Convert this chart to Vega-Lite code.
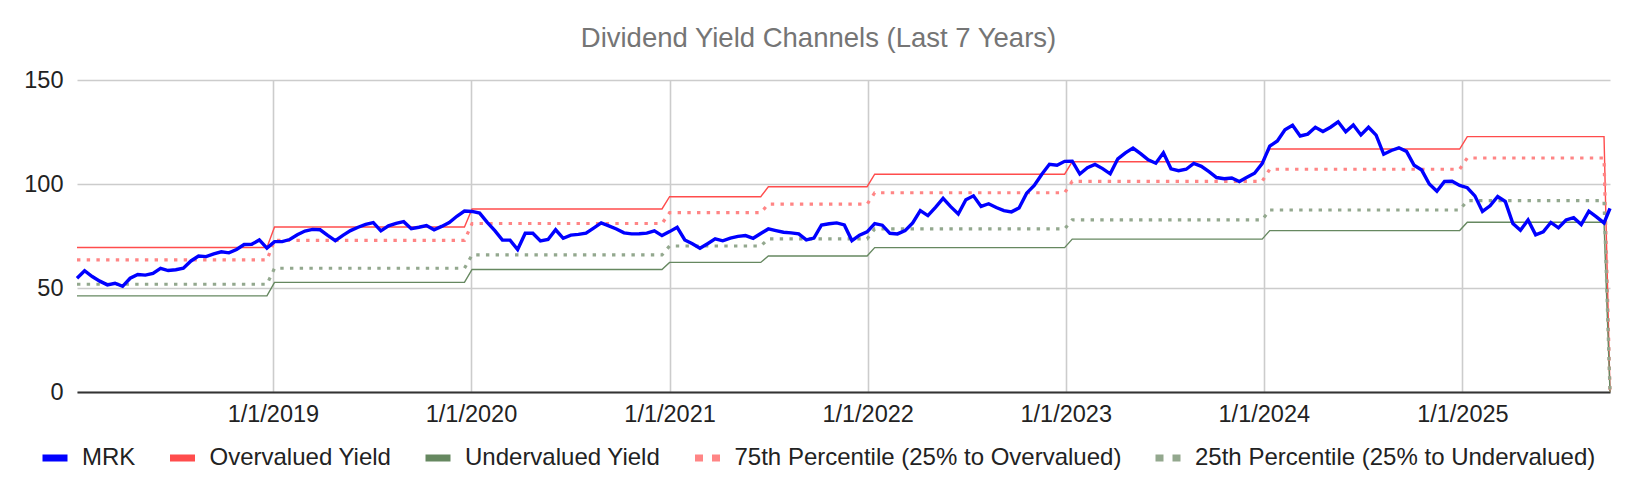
{
  "$schema": "https://vega.github.io/schema/vega-lite/v6.json",
  "width": 1533,
  "height": 312,
  "autosize": {"type": "none"},
  "padding": {"left": 77, "top": 80, "right": 26, "bottom": 102},
  "background": "white",
  "config": {
    "view": {"stroke": null},
    "font": "Liberation Sans"
  },
  "title": {
    "text": "Dividend Yield Channels (Last 7 Years)",
    "font": "Liberation Sans",
    "fontSize": 27.5,
    "fontWeight": "normal",
    "color": "#757575",
    "anchor": "middle",
    "frame": "group",
    "dx": -25,
    "offset": 16
  },
  "data": {
    "values": [
      {"d": "2018-01-05", "s": "MRK", "v": 54.7},
      {"d": "2018-01-19", "s": "MRK", "v": 58.3},
      {"d": "2018-02-02", "s": "MRK", "v": 55.5},
      {"d": "2018-02-16", "s": "MRK", "v": 53.3},
      {"d": "2018-03-02", "s": "MRK", "v": 51.5},
      {"d": "2018-03-16", "s": "MRK", "v": 52.3},
      {"d": "2018-03-30", "s": "MRK", "v": 50.8},
      {"d": "2018-04-13", "s": "MRK", "v": 54.7},
      {"d": "2018-04-27", "s": "MRK", "v": 56.5},
      {"d": "2018-05-11", "s": "MRK", "v": 56.2},
      {"d": "2018-05-25", "s": "MRK", "v": 57.0},
      {"d": "2018-06-08", "s": "MRK", "v": 59.4},
      {"d": "2018-06-22", "s": "MRK", "v": 58.4},
      {"d": "2018-07-06", "s": "MRK", "v": 58.8},
      {"d": "2018-07-20", "s": "MRK", "v": 59.5},
      {"d": "2018-08-03", "s": "MRK", "v": 63.0},
      {"d": "2018-08-17", "s": "MRK", "v": 65.4},
      {"d": "2018-08-31", "s": "MRK", "v": 65.1},
      {"d": "2018-09-14", "s": "MRK", "v": 66.4},
      {"d": "2018-09-28", "s": "MRK", "v": 67.4},
      {"d": "2018-10-12", "s": "MRK", "v": 66.9},
      {"d": "2018-10-26", "s": "MRK", "v": 68.5},
      {"d": "2018-11-09", "s": "MRK", "v": 70.9},
      {"d": "2018-11-23", "s": "MRK", "v": 71.0},
      {"d": "2018-12-07", "s": "MRK", "v": 73.1},
      {"d": "2018-12-21", "s": "MRK", "v": 69.2},
      {"d": "2019-01-04", "s": "MRK", "v": 72.3},
      {"d": "2019-01-18", "s": "MRK", "v": 72.3},
      {"d": "2019-02-01", "s": "MRK", "v": 73.3},
      {"d": "2019-02-15", "s": "MRK", "v": 75.6},
      {"d": "2019-03-01", "s": "MRK", "v": 77.4},
      {"d": "2019-03-15", "s": "MRK", "v": 78.2},
      {"d": "2019-03-29", "s": "MRK", "v": 78.0},
      {"d": "2019-04-12", "s": "MRK", "v": 75.3},
      {"d": "2019-04-26", "s": "MRK", "v": 72.8},
      {"d": "2019-05-10", "s": "MRK", "v": 75.3},
      {"d": "2019-05-24", "s": "MRK", "v": 77.6},
      {"d": "2019-06-07", "s": "MRK", "v": 79.2},
      {"d": "2019-06-21", "s": "MRK", "v": 80.6},
      {"d": "2019-07-05", "s": "MRK", "v": 81.4},
      {"d": "2019-07-19", "s": "MRK", "v": 77.5},
      {"d": "2019-08-02", "s": "MRK", "v": 79.9},
      {"d": "2019-08-16", "s": "MRK", "v": 81.1},
      {"d": "2019-08-30", "s": "MRK", "v": 81.9},
      {"d": "2019-09-13", "s": "MRK", "v": 78.5},
      {"d": "2019-09-27", "s": "MRK", "v": 79.2},
      {"d": "2019-10-11", "s": "MRK", "v": 80.0},
      {"d": "2019-10-25", "s": "MRK", "v": 78.0},
      {"d": "2019-11-08", "s": "MRK", "v": 79.6},
      {"d": "2019-11-22", "s": "MRK", "v": 81.5},
      {"d": "2019-12-06", "s": "MRK", "v": 84.5},
      {"d": "2019-12-20", "s": "MRK", "v": 87.0},
      {"d": "2020-01-03", "s": "MRK", "v": 86.8},
      {"d": "2020-01-17", "s": "MRK", "v": 86.0},
      {"d": "2020-01-31", "s": "MRK", "v": 81.6},
      {"d": "2020-02-14", "s": "MRK", "v": 77.6},
      {"d": "2020-02-28", "s": "MRK", "v": 73.1},
      {"d": "2020-03-13", "s": "MRK", "v": 73.0},
      {"d": "2020-03-27", "s": "MRK", "v": 68.5},
      {"d": "2020-04-10", "s": "MRK", "v": 76.3},
      {"d": "2020-04-24", "s": "MRK", "v": 76.3},
      {"d": "2020-05-08", "s": "MRK", "v": 72.6},
      {"d": "2020-05-22", "s": "MRK", "v": 73.3},
      {"d": "2020-06-05", "s": "MRK", "v": 78.0},
      {"d": "2020-06-19", "s": "MRK", "v": 73.9},
      {"d": "2020-07-03", "s": "MRK", "v": 75.4},
      {"d": "2020-07-17", "s": "MRK", "v": 75.8},
      {"d": "2020-07-31", "s": "MRK", "v": 76.4},
      {"d": "2020-08-14", "s": "MRK", "v": 78.8},
      {"d": "2020-08-28", "s": "MRK", "v": 81.3},
      {"d": "2020-09-11", "s": "MRK", "v": 79.9},
      {"d": "2020-09-25", "s": "MRK", "v": 78.4},
      {"d": "2020-10-09", "s": "MRK", "v": 76.5},
      {"d": "2020-10-23", "s": "MRK", "v": 76.0},
      {"d": "2020-11-06", "s": "MRK", "v": 76.1},
      {"d": "2020-11-20", "s": "MRK", "v": 76.4},
      {"d": "2020-12-04", "s": "MRK", "v": 77.5},
      {"d": "2020-12-18", "s": "MRK", "v": 75.2},
      {"d": "2021-01-01", "s": "MRK", "v": 77.1},
      {"d": "2021-01-15", "s": "MRK", "v": 79.2},
      {"d": "2021-01-29", "s": "MRK", "v": 73.1},
      {"d": "2021-02-12", "s": "MRK", "v": 71.3},
      {"d": "2021-02-26", "s": "MRK", "v": 69.1},
      {"d": "2021-03-12", "s": "MRK", "v": 71.3},
      {"d": "2021-03-26", "s": "MRK", "v": 73.6},
      {"d": "2021-04-09", "s": "MRK", "v": 72.7},
      {"d": "2021-04-23", "s": "MRK", "v": 74.0},
      {"d": "2021-05-07", "s": "MRK", "v": 74.8},
      {"d": "2021-05-21", "s": "MRK", "v": 75.2},
      {"d": "2021-06-04", "s": "MRK", "v": 73.9},
      {"d": "2021-06-18", "s": "MRK", "v": 76.2},
      {"d": "2021-07-02", "s": "MRK", "v": 78.4},
      {"d": "2021-07-16", "s": "MRK", "v": 77.6},
      {"d": "2021-07-30", "s": "MRK", "v": 76.8},
      {"d": "2021-08-13", "s": "MRK", "v": 76.5},
      {"d": "2021-08-27", "s": "MRK", "v": 76.0},
      {"d": "2021-09-10", "s": "MRK", "v": 73.1},
      {"d": "2021-09-24", "s": "MRK", "v": 74.0},
      {"d": "2021-10-08", "s": "MRK", "v": 80.3},
      {"d": "2021-10-22", "s": "MRK", "v": 80.9},
      {"d": "2021-11-05", "s": "MRK", "v": 81.3},
      {"d": "2021-11-19", "s": "MRK", "v": 80.3},
      {"d": "2021-12-03", "s": "MRK", "v": 72.8},
      {"d": "2021-12-17", "s": "MRK", "v": 75.4},
      {"d": "2021-12-31", "s": "MRK", "v": 77.0},
      {"d": "2022-01-14", "s": "MRK", "v": 81.0},
      {"d": "2022-01-28", "s": "MRK", "v": 80.2},
      {"d": "2022-02-11", "s": "MRK", "v": 76.3},
      {"d": "2022-02-25", "s": "MRK", "v": 76.0},
      {"d": "2022-03-11", "s": "MRK", "v": 77.6},
      {"d": "2022-03-25", "s": "MRK", "v": 81.3},
      {"d": "2022-04-08", "s": "MRK", "v": 87.2},
      {"d": "2022-04-22", "s": "MRK", "v": 84.8},
      {"d": "2022-05-06", "s": "MRK", "v": 88.8},
      {"d": "2022-05-20", "s": "MRK", "v": 93.1},
      {"d": "2022-06-03", "s": "MRK", "v": 89.1},
      {"d": "2022-06-17", "s": "MRK", "v": 85.6},
      {"d": "2022-07-01", "s": "MRK", "v": 92.4},
      {"d": "2022-07-15", "s": "MRK", "v": 94.3},
      {"d": "2022-07-29", "s": "MRK", "v": 89.2},
      {"d": "2022-08-12", "s": "MRK", "v": 90.5},
      {"d": "2022-08-26", "s": "MRK", "v": 88.7},
      {"d": "2022-09-09", "s": "MRK", "v": 87.2},
      {"d": "2022-09-23", "s": "MRK", "v": 86.6},
      {"d": "2022-10-07", "s": "MRK", "v": 88.5},
      {"d": "2022-10-21", "s": "MRK", "v": 95.6},
      {"d": "2022-11-04", "s": "MRK", "v": 99.3},
      {"d": "2022-11-18", "s": "MRK", "v": 104.7},
      {"d": "2022-12-02", "s": "MRK", "v": 109.5},
      {"d": "2022-12-16", "s": "MRK", "v": 109.0},
      {"d": "2022-12-30", "s": "MRK", "v": 110.9},
      {"d": "2023-01-13", "s": "MRK", "v": 111.0},
      {"d": "2023-01-27", "s": "MRK", "v": 104.8},
      {"d": "2023-02-10", "s": "MRK", "v": 107.8},
      {"d": "2023-02-24", "s": "MRK", "v": 109.4},
      {"d": "2023-03-10", "s": "MRK", "v": 107.4},
      {"d": "2023-03-24", "s": "MRK", "v": 104.9},
      {"d": "2023-04-07", "s": "MRK", "v": 112.1},
      {"d": "2023-04-21", "s": "MRK", "v": 115.0},
      {"d": "2023-05-05", "s": "MRK", "v": 117.3},
      {"d": "2023-05-19", "s": "MRK", "v": 114.6},
      {"d": "2023-06-02", "s": "MRK", "v": 111.6},
      {"d": "2023-06-16", "s": "MRK", "v": 110.0},
      {"d": "2023-06-30", "s": "MRK", "v": 115.0},
      {"d": "2023-07-14", "s": "MRK", "v": 107.3},
      {"d": "2023-07-28", "s": "MRK", "v": 106.4},
      {"d": "2023-08-11", "s": "MRK", "v": 107.1},
      {"d": "2023-08-25", "s": "MRK", "v": 109.9},
      {"d": "2023-09-08", "s": "MRK", "v": 108.5},
      {"d": "2023-09-22", "s": "MRK", "v": 105.9},
      {"d": "2023-10-06", "s": "MRK", "v": 103.1},
      {"d": "2023-10-20", "s": "MRK", "v": 102.5},
      {"d": "2023-11-03", "s": "MRK", "v": 102.9},
      {"d": "2023-11-17", "s": "MRK", "v": 101.2},
      {"d": "2023-12-01", "s": "MRK", "v": 103.2},
      {"d": "2023-12-15", "s": "MRK", "v": 105.2},
      {"d": "2023-12-29", "s": "MRK", "v": 109.8},
      {"d": "2024-01-12", "s": "MRK", "v": 118.2},
      {"d": "2024-01-26", "s": "MRK", "v": 120.7},
      {"d": "2024-02-09", "s": "MRK", "v": 126.1},
      {"d": "2024-02-23", "s": "MRK", "v": 128.2},
      {"d": "2024-03-08", "s": "MRK", "v": 123.1},
      {"d": "2024-03-22", "s": "MRK", "v": 124.0},
      {"d": "2024-04-05", "s": "MRK", "v": 127.3},
      {"d": "2024-04-19", "s": "MRK", "v": 125.2},
      {"d": "2024-05-03", "s": "MRK", "v": 127.3},
      {"d": "2024-05-17", "s": "MRK", "v": 129.9},
      {"d": "2024-05-31", "s": "MRK", "v": 125.1},
      {"d": "2024-06-14", "s": "MRK", "v": 128.4},
      {"d": "2024-06-28", "s": "MRK", "v": 123.6},
      {"d": "2024-07-12", "s": "MRK", "v": 127.3},
      {"d": "2024-07-26", "s": "MRK", "v": 123.5},
      {"d": "2024-08-09", "s": "MRK", "v": 114.3},
      {"d": "2024-08-23", "s": "MRK", "v": 116.1},
      {"d": "2024-09-06", "s": "MRK", "v": 117.4},
      {"d": "2024-09-20", "s": "MRK", "v": 115.7},
      {"d": "2024-10-04", "s": "MRK", "v": 109.0},
      {"d": "2024-10-18", "s": "MRK", "v": 106.7},
      {"d": "2024-11-01", "s": "MRK", "v": 100.0},
      {"d": "2024-11-15", "s": "MRK", "v": 96.5},
      {"d": "2024-11-29", "s": "MRK", "v": 101.2},
      {"d": "2024-12-13", "s": "MRK", "v": 101.3},
      {"d": "2024-12-27", "s": "MRK", "v": 99.3},
      {"d": "2025-01-10", "s": "MRK", "v": 98.2},
      {"d": "2025-01-24", "s": "MRK", "v": 94.3},
      {"d": "2025-02-07", "s": "MRK", "v": 86.8},
      {"d": "2025-02-21", "s": "MRK", "v": 89.5},
      {"d": "2025-03-07", "s": "MRK", "v": 94.0},
      {"d": "2025-03-21", "s": "MRK", "v": 91.6},
      {"d": "2025-04-04", "s": "MRK", "v": 81.0},
      {"d": "2025-04-18", "s": "MRK", "v": 77.8},
      {"d": "2025-05-02", "s": "MRK", "v": 82.7},
      {"d": "2025-05-16", "s": "MRK", "v": 75.6},
      {"d": "2025-05-30", "s": "MRK", "v": 77.0},
      {"d": "2025-06-13", "s": "MRK", "v": 81.5},
      {"d": "2025-06-27", "s": "MRK", "v": 78.9},
      {"d": "2025-07-11", "s": "MRK", "v": 82.7},
      {"d": "2025-07-25", "s": "MRK", "v": 83.8},
      {"d": "2025-08-08", "s": "MRK", "v": 80.5},
      {"d": "2025-08-22", "s": "MRK", "v": 86.9},
      {"d": "2025-09-05", "s": "MRK", "v": 84.2},
      {"d": "2025-09-19", "s": "MRK", "v": 81.3},
      {"d": "2025-09-30", "s": "MRK", "v": 88.3},

      {"d": "2018-01-05", "s": "Overvalued Yield", "v": 69.5},
      {"d": "2018-12-21", "s": "Overvalued Yield", "v": 69.5},
      {"d": "2019-01-04", "s": "Overvalued Yield", "v": 79.3},
      {"d": "2019-12-20", "s": "Overvalued Yield", "v": 79.3},
      {"d": "2020-01-03", "s": "Overvalued Yield", "v": 88.0},
      {"d": "2020-12-18", "s": "Overvalued Yield", "v": 88.0},
      {"d": "2021-01-01", "s": "Overvalued Yield", "v": 93.9},
      {"d": "2021-06-18", "s": "Overvalued Yield", "v": 93.9},
      {"d": "2021-07-02", "s": "Overvalued Yield", "v": 98.7},
      {"d": "2021-12-31", "s": "Overvalued Yield", "v": 98.7},
      {"d": "2022-01-14", "s": "Overvalued Yield", "v": 104.7},
      {"d": "2022-12-30", "s": "Overvalued Yield", "v": 104.7},
      {"d": "2023-01-13", "s": "Overvalued Yield", "v": 110.7},
      {"d": "2023-12-29", "s": "Overvalued Yield", "v": 110.7},
      {"d": "2024-01-12", "s": "Overvalued Yield", "v": 116.8},
      {"d": "2024-12-27", "s": "Overvalued Yield", "v": 116.8},
      {"d": "2025-01-10", "s": "Overvalued Yield", "v": 122.8},
      {"d": "2025-09-19", "s": "Overvalued Yield", "v": 122.8},
      {"d": "2025-09-30", "s": "Overvalued Yield", "v": 0},

      {"d": "2018-01-05", "s": "Undervalued Yield", "v": 46.2},
      {"d": "2018-12-21", "s": "Undervalued Yield", "v": 46.2},
      {"d": "2019-01-04", "s": "Undervalued Yield", "v": 52.7},
      {"d": "2019-12-20", "s": "Undervalued Yield", "v": 52.7},
      {"d": "2020-01-03", "s": "Undervalued Yield", "v": 58.9},
      {"d": "2020-12-18", "s": "Undervalued Yield", "v": 58.9},
      {"d": "2021-01-01", "s": "Undervalued Yield", "v": 62.3},
      {"d": "2021-06-18", "s": "Undervalued Yield", "v": 62.3},
      {"d": "2021-07-02", "s": "Undervalued Yield", "v": 65.4},
      {"d": "2021-12-31", "s": "Undervalued Yield", "v": 65.4},
      {"d": "2022-01-14", "s": "Undervalued Yield", "v": 69.4},
      {"d": "2022-12-30", "s": "Undervalued Yield", "v": 69.4},
      {"d": "2023-01-13", "s": "Undervalued Yield", "v": 73.5},
      {"d": "2023-12-29", "s": "Undervalued Yield", "v": 73.5},
      {"d": "2024-01-12", "s": "Undervalued Yield", "v": 77.6},
      {"d": "2024-12-27", "s": "Undervalued Yield", "v": 77.6},
      {"d": "2025-01-10", "s": "Undervalued Yield", "v": 81.6},
      {"d": "2025-09-19", "s": "Undervalued Yield", "v": 81.6},
      {"d": "2025-09-30", "s": "Undervalued Yield", "v": 0},

      {"d": "2018-01-05", "s": "75th Percentile (25% to Overvalued)", "v": 63.5},
      {"d": "2018-12-21", "s": "75th Percentile (25% to Overvalued)", "v": 63.5},
      {"d": "2019-01-04", "s": "75th Percentile (25% to Overvalued)", "v": 72.9},
      {"d": "2019-12-20", "s": "75th Percentile (25% to Overvalued)", "v": 72.9},
      {"d": "2020-01-03", "s": "75th Percentile (25% to Overvalued)", "v": 81.0},
      {"d": "2020-12-18", "s": "75th Percentile (25% to Overvalued)", "v": 81.0},
      {"d": "2021-01-01", "s": "75th Percentile (25% to Overvalued)", "v": 86.2},
      {"d": "2021-06-18", "s": "75th Percentile (25% to Overvalued)", "v": 86.2},
      {"d": "2021-07-02", "s": "75th Percentile (25% to Overvalued)", "v": 90.3},
      {"d": "2021-12-31", "s": "75th Percentile (25% to Overvalued)", "v": 90.3},
      {"d": "2022-01-14", "s": "75th Percentile (25% to Overvalued)", "v": 95.8},
      {"d": "2022-12-30", "s": "75th Percentile (25% to Overvalued)", "v": 95.8},
      {"d": "2023-01-13", "s": "75th Percentile (25% to Overvalued)", "v": 101.3},
      {"d": "2023-12-29", "s": "75th Percentile (25% to Overvalued)", "v": 101.3},
      {"d": "2024-01-12", "s": "75th Percentile (25% to Overvalued)", "v": 107.1},
      {"d": "2024-12-27", "s": "75th Percentile (25% to Overvalued)", "v": 107.1},
      {"d": "2025-01-10", "s": "75th Percentile (25% to Overvalued)", "v": 112.5},
      {"d": "2025-09-19", "s": "75th Percentile (25% to Overvalued)", "v": 112.5},
      {"d": "2025-09-30", "s": "75th Percentile (25% to Overvalued)", "v": 0},

      {"d": "2018-01-05", "s": "25th Percentile (25% to Undervalued)", "v": 51.8},
      {"d": "2018-12-21", "s": "25th Percentile (25% to Undervalued)", "v": 51.8},
      {"d": "2019-01-04", "s": "25th Percentile (25% to Undervalued)", "v": 59.5},
      {"d": "2019-12-20", "s": "25th Percentile (25% to Undervalued)", "v": 59.5},
      {"d": "2020-01-03", "s": "25th Percentile (25% to Undervalued)", "v": 65.9},
      {"d": "2020-12-18", "s": "25th Percentile (25% to Undervalued)", "v": 65.9},
      {"d": "2021-01-01", "s": "25th Percentile (25% to Undervalued)", "v": 70.2},
      {"d": "2021-06-18", "s": "25th Percentile (25% to Undervalued)", "v": 70.2},
      {"d": "2021-07-02", "s": "25th Percentile (25% to Undervalued)", "v": 73.6},
      {"d": "2021-12-31", "s": "25th Percentile (25% to Undervalued)", "v": 73.6},
      {"d": "2022-01-14", "s": "25th Percentile (25% to Undervalued)", "v": 78.4},
      {"d": "2022-12-30", "s": "25th Percentile (25% to Undervalued)", "v": 78.4},
      {"d": "2023-01-13", "s": "25th Percentile (25% to Undervalued)", "v": 82.8},
      {"d": "2023-12-29", "s": "25th Percentile (25% to Undervalued)", "v": 82.8},
      {"d": "2024-01-12", "s": "25th Percentile (25% to Undervalued)", "v": 87.5},
      {"d": "2024-12-27", "s": "25th Percentile (25% to Undervalued)", "v": 87.5},
      {"d": "2025-01-10", "s": "25th Percentile (25% to Undervalued)", "v": 92.0},
      {"d": "2025-09-19", "s": "25th Percentile (25% to Undervalued)", "v": 92.0},
      {"d": "2025-09-30", "s": "25th Percentile (25% to Undervalued)", "v": 0}
    ]
  },
  "encoding": {
    "x": {
      "field": "d",
      "type": "temporal",
      "scale": {"type": "utc"},
      "axis": {
        "title": null,
        "values": [
          {"year": 2019, "month": 1, "date": 1, "utc": true},
          {"year": 2020, "month": 1, "date": 1, "utc": true},
          {"year": 2021, "month": 1, "date": 1, "utc": true},
          {"year": 2022, "month": 1, "date": 1, "utc": true},
          {"year": 2023, "month": 1, "date": 1, "utc": true},
          {"year": 2024, "month": 1, "date": 1, "utc": true},
          {"year": 2025, "month": 1, "date": 1, "utc": true}
        ],
        "format": "%-m/%-d/%Y",
        "grid": true,
        "gridColor": "#cccccc",
        "gridWidth": 1.6,
        "ticks": false,
        "domain": true,
        "domainColor": "#333333",
        "domainWidth": 2,
        "labelFont": "Liberation Sans",
        "labelFontSize": 23.5,
        "labelColor": "#222222",
        "labelPadding": 10
      }
    },
    "y": {
      "field": "v",
      "type": "quantitative",
      "scale": {"domain": [0, 150], "nice": false},
      "axis": {
        "title": null,
        "values": [0, 50, 100, 150],
        "grid": true,
        "gridColor": "#cccccc",
        "gridWidth": 1.6,
        "ticks": false,
        "domain": false,
        "labelFont": "Liberation Sans",
        "labelFontSize": 23.5,
        "labelColor": "#222222",
        "labelPadding": 14
      }
    },
    "color": {
      "field": "s",
      "type": "nominal",
      "scale": {
        "domain": ["MRK", "Overvalued Yield", "Undervalued Yield", "75th Percentile (25% to Overvalued)", "25th Percentile (25% to Undervalued)"],
        "range": ["#0000ff", "#ff4c4c", "#668860", "#ff8585", "#93a88e"]
      },
      "legend": {
        "title": null,
        "orient": "none",
        "direction": "horizontal",
        "legendX": -38,
        "legendY": 362,
        "padding": 0,
        "symbolType": "stroke",
        "symbolSize": 625,
        "symbolStrokeWidth": 7,
        "labelFont": "Liberation Sans",
        "labelFontSize": 24,
        "labelColor": "#222222",
        "labelLimit": 0,
        "labelOffset": 11,
        "columnPadding": 19.5,
        "encode": {
          "symbols": {
            "update": {
              "strokeWidth": {"value": 7},
              "strokeDash": {"signal": "indexof(datum.value, 'Percentile') >= 0 ? [8, 9] : [1, 0]"}
            }
          }
        }
      }
    }
  },
  "layer": [
    {
      "transform": [{"filter": "datum.s === 'Overvalued Yield' || datum.s === 'Undervalued Yield'"}],
      "mark": {"type": "line", "strokeWidth": 1.4, "strokeJoin": "miter"}
    },
    {
      "transform": [{"filter": "indexof(datum.s, 'Percentile') >= 0"}],
      "mark": {"type": "line", "strokeWidth": 3.2, "strokeDash": [3.4, 6.3], "strokeCap": "butt", "strokeJoin": "miter"}
    },
    {
      "transform": [{"filter": "datum.s === 'MRK'"}],
      "mark": {"type": "line", "strokeWidth": 3.4, "strokeJoin": "miter"}
    }
  ]
}
